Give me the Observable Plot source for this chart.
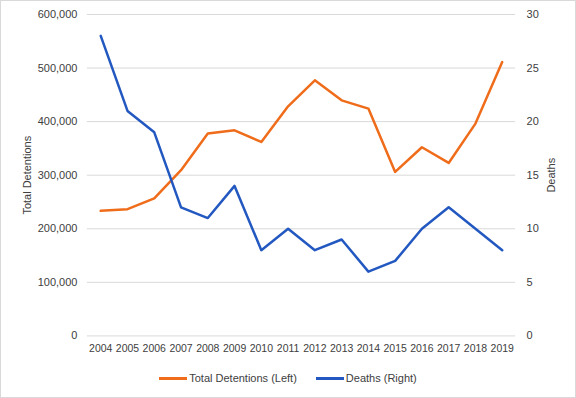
<!DOCTYPE html>
<html>
<head>
<meta charset="utf-8">
<script src="https://cdn.jsdelivr.net/npm/d3@7"></script>
<script src="https://cdn.jsdelivr.net/npm/@observablehq/plot@0.6"></script>
<style>
  html, body { margin: 0; padding: 0; background: #fff; }
  #chart { position: relative; width: 576px; height: 398px; box-sizing: border-box; border: 1px solid #d9d9d9; overflow: hidden; font-family: "Liberation Sans", "DejaVu Sans", sans-serif; }
  #plot { position: absolute; left: -1px; top: -1px; }
  #legend { position: absolute; left: 0; right: 0; top: 371px; display: flex; justify-content: center; gap: 19px; font-size: 11px; color: #404040; }
  .item { display: flex; align-items: center; gap: 2px; }
  .swatch { width: 28px; height: 3px; display: inline-block; }
</style>
</head>
<body>
<div id="chart"><div id="plot"></div><div id="legend"></div></div>
<script>
const years = ["2004","2005","2006","2007","2008","2009","2010","2011","2012","2013","2014","2015","2016","2017","2018","2019"];
const detentions = [233500, 236600, 256600, 309300, 377700, 383800, 362000, 428500, 477000, 439700, 424300, 306100, 352100, 322900, 396300, 511100];
const deaths = [28, 21, 19, 12, 11, 14, 8, 10, 8, 9, 6, 7, 10, 12, 10, 8];
const leftTicks = [0, 100000, 200000, 300000, 400000, 500000, 600000];
const rightTicks = [0, 5, 10, 15, 20, 25, 30];
const seriesNames = ["Total Detentions (Left)", "Deaths (Right)"];
const colors = ["#EF6C1A", "#2258C0"];

const ratio = 600000 / 30;
const detData = years.map((y, i) => ({year: y, value: detentions[i]}));
const deathData = years.map((y, i) => ({year: y, value: deaths[i] * ratio}));

const plot = Plot.plot({
  width: 576,
  height: 366,
  marginLeft: 87,
  marginRight: 60,
  marginTop: 14,
  marginBottom: 30,
  style: {fontFamily: '"Liberation Sans", sans-serif', fontSize: "11px", color: "#404040", background: "transparent"},
  x: {type: "point", domain: years, padding: 0.5, round: false},
  y: {domain: [0, 600000]},
  marks: [
    Plot.ruleY(leftTicks, {stroke: "#d9d9d9", strokeWidth: 1}),
    Plot.axisX({tickSize: 0, tickPadding: 9, label: null, fontSize: 10.5}),
    Plot.axisY({ticks: leftTicks, tickSize: 0, tickPadding: 10, tickFormat: d3.format(","), label: "Total Detentions", labelArrow: "none", labelAnchor: "center", labelOffset: 64}),
    Plot.axisY(rightTicks.map(d => d * ratio), {anchor: "right", tickSize: 0, tickPadding: 11, tickFormat: d => String(d / ratio), label: "Deaths", labelArrow: "none", labelAnchor: "center", labelOffset: 39}),
    Plot.line(detData, {x: "year", y: "value", stroke: colors[0], strokeWidth: 2.5, strokeLinejoin: "round", strokeLinecap: "round"}),
    Plot.line(deathData, {x: "year", y: "value", stroke: colors[1], strokeWidth: 2.5, strokeLinejoin: "round", strokeLinecap: "round"})
  ]
});
document.getElementById("plot").appendChild(plot);

const legend = document.getElementById("legend");
seriesNames.forEach((name, i) => {
  const item = document.createElement("div");
  item.className = "item";
  const sw = document.createElement("span");
  sw.className = "swatch";
  sw.style.background = colors[i];
  const t = document.createElement("span");
  t.textContent = name;
  item.appendChild(sw);
  item.appendChild(t);
  legend.appendChild(item);
});
</script>
</body>
</html>
